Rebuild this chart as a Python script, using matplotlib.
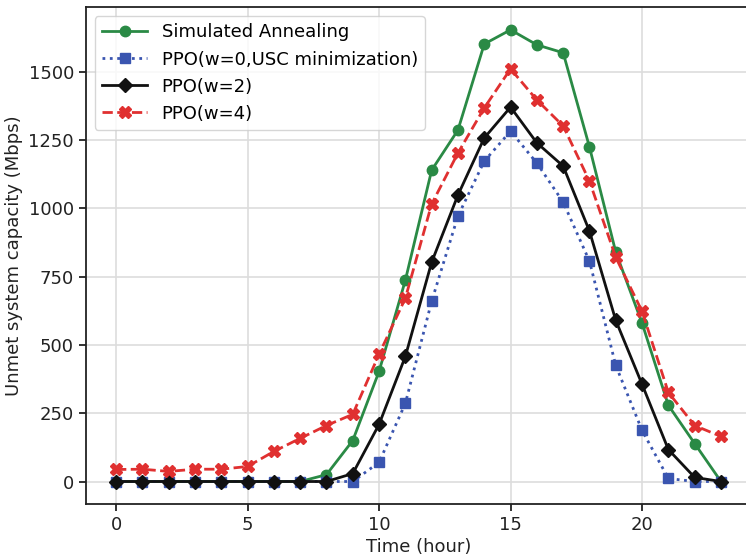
import numpy as np
import matplotlib.pyplot as plt

hours = list(range(24))
sa = [0, 0, 0, 0, 0, 0, 0, 0, 25, 150, 403, 737, 1140, 1287, 1602, 1654,
      1599, 1570, 1225, 840, 580, 279, 139, 0]
ppo_w0 = [0, 0, 0, 0, 0, 0, 0, 0, 0, 0, 70, 286, 660, 972, 1173, 1283,
          1166, 1023, 807, 425, 187, 11, 0, 0]
ppo_w2 = [0, 0, 0, 0, 0, 0, 0, 0, 0, 29, 209, 458, 803, 1049, 1258, 1371,
          1240, 1155, 917, 590, 356, 117, 15, 0]
ppo_w4 = [44, 45, 37, 45, 45, 55, 110, 158, 205, 246, 466, 671, 1016, 1203,
          1368, 1511, 1397, 1302, 1100, 821, 623, 326, 205, 165]

fig, ax = plt.subplots(figsize=(7.46, 5.57), dpi=100)
ax.plot(hours, sa, '-o', color='#2a8a45', lw=2, ms=7.5, label='Simulated Annealing')
ax.plot(hours, ppo_w0, ':s', color='#3a55b0', lw=2, ms=7.5, label='PPO(w=0,USC minimization)')
ax.plot(hours, ppo_w2, '-D', color='#111111', lw=2, ms=7.5, label='PPO(w=2)')
ax.plot(hours, ppo_w4, '--X', color='#e03030', lw=2, ms=8.5, label='PPO(w=4)')

ax.set_xticks([0, 5, 10, 15, 20])
ax.set_yticks([0, 250, 500, 750, 1000, 1250, 1500])
ax.grid(True, color='#dddddd', lw=1.2)
ax.set_axisbelow(True)
ax.tick_params(labelsize=13, direction='out', length=5, width=1.3, colors='#222222')
for s in ax.spines.values():
    s.set_color('#222222')
    s.set_linewidth(1.3)
ax.set_xlabel('Time (hour)', fontsize=13, color='#222222', labelpad=3)
ax.set_ylabel('Unmet system capacity (Mbps)', fontsize=13, color='#222222')
ax.legend(loc='upper left', fontsize=13, handlelength=2.5)

fig.subplots_adjust(left=0.115, right=1.007, top=0.987, bottom=0.095)
fig.savefig('out.png')
